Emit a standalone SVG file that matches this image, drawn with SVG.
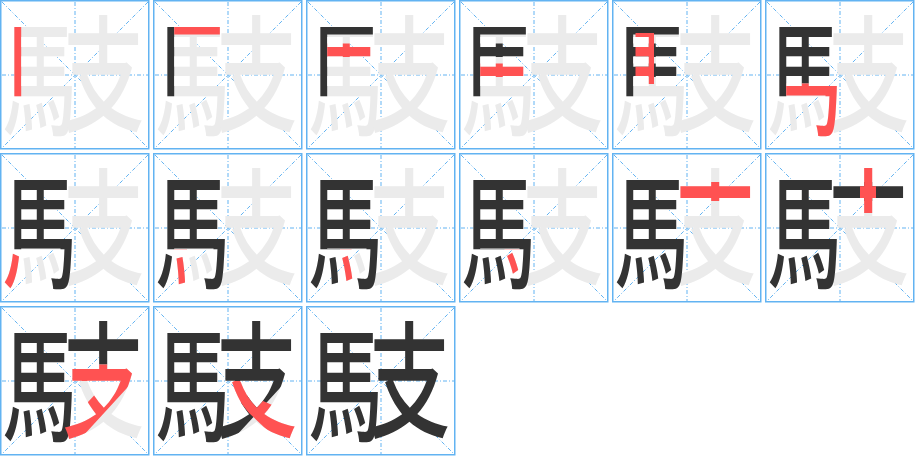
<svg xmlns="http://www.w3.org/2000/svg" xmlns:xlink="http://www.w3.org/1999/xlink" width="915" height="456" viewBox="0 0 915 456">
<style>
.frame{fill:none;stroke:#62b3f2;stroke-width:1.5}
.guide{stroke:#62b3f2;stroke-width:1;stroke-dasharray:4,2,1,2;fill:none}
.gly{font-family:"Noto Sans CJK SC","Noto Sans CJK JP",sans-serif;font-weight:500}
.gray{fill:#ebebeb}
.blk{fill:#333333}
.red{fill:#ff5252}
</style>
<defs>
<g id="frame">
<rect class="frame" x="0.75" y="0.75" width="148" height="148"/>
<path class="guide" d="M75 2V148M2 75H148M2 2L148 148M148 2L2 148"/>
</g>
<text id="ma" class="gly" transform="translate(39.5,0) scale(0.6,1)" x="0" y="124.6" font-size="123" text-anchor="middle">馬</text>
<text id="zh" class="gly" transform="translate(103.5,0) scale(0.65,1)" x="0" y="121.6" font-size="126" text-anchor="middle">支</text>
<path id="p1" d="M9 22H21.2V98.3H9Z"/>
<path id="p2" d="M21.2 22H70V34.5H21.2Z"/>
<path id="p3" d="M21.2 43.5H70V57H21.2Z"/>
<path id="p4" d="M21.2 63.5H70V77H21.2Z"/>
<path id="p5" d="M23.5 33H42V84H23.5Z"/>
<path id="p5s" d="M21.2 34.5H70V43.5H21.2ZM21.2 57H70V63.5H21.2ZM21.2 77H70V83.5H21.2Z"/>
<path id="p6" d="M21.2 83.5H76V139H50.4V123.2H60.5V95.5H21.2Z"/>
<path id="p7" d="M1 98.5H21.2V138H1Z"/>
<path id="p8" d="M21.2 96H34V135H21.2Z"/>
<path id="p9" d="M34 96H45.5L50.4 123.2V135H34Z"/>
<path id="p10" d="M45.5 96H60.5V123.2H50.4Z"/>
<path id="p11" d="M63 29H143V48H63Z"/>
<path id="p12" d="M95 8H111V60H95Z"/>
<path id="p12s" d="M95 8H111V29H95ZM95 48H111V58.5H95Z"/>
<path id="p13" d="M66 58.5H138V70L74.7 139L60 126L107.6 75H66Z"/>
<path id="p14" d="M70 75H87L110 95L147 111V137H128L96 107Z"/>
<clipPath id="c1"><use xlink:href="#p1"/></clipPath>
<clipPath id="c2"><use xlink:href="#p2"/></clipPath>
<clipPath id="c3"><use xlink:href="#p3"/></clipPath>
<clipPath id="c4"><use xlink:href="#p4"/></clipPath>
<clipPath id="c5"><use xlink:href="#p5"/></clipPath>
<clipPath id="c6"><use xlink:href="#p6"/></clipPath>
<clipPath id="c7"><use xlink:href="#p7"/></clipPath>
<clipPath id="c8"><use xlink:href="#p8"/></clipPath>
<clipPath id="c9"><use xlink:href="#p9"/></clipPath>
<clipPath id="c10"><use xlink:href="#p10"/></clipPath>
<clipPath id="c11"><use xlink:href="#p11"/></clipPath>
<clipPath id="c12"><use xlink:href="#p12"/></clipPath>
<clipPath id="c13"><use xlink:href="#p13"/></clipPath>
<clipPath id="c14"><use xlink:href="#p14"/></clipPath>
<clipPath id="m2"><use xlink:href="#p1"/></clipPath>
<clipPath id="m3"><use xlink:href="#p1"/><use xlink:href="#p2"/></clipPath>
<clipPath id="m4"><use xlink:href="#p1"/><use xlink:href="#p2"/><use xlink:href="#p3"/></clipPath>
<clipPath id="m5"><use xlink:href="#p1"/><use xlink:href="#p2"/><use xlink:href="#p3"/><use xlink:href="#p4"/></clipPath>
<clipPath id="m6"><use xlink:href="#p1"/><use xlink:href="#p2"/><use xlink:href="#p3"/><use xlink:href="#p4"/><use xlink:href="#p5s"/></clipPath>
<clipPath id="m7"><use xlink:href="#p1"/><use xlink:href="#p2"/><use xlink:href="#p3"/><use xlink:href="#p4"/><use xlink:href="#p5s"/><use xlink:href="#p6"/></clipPath>
<clipPath id="m8"><use xlink:href="#p1"/><use xlink:href="#p2"/><use xlink:href="#p3"/><use xlink:href="#p4"/><use xlink:href="#p5s"/><use xlink:href="#p6"/><use xlink:href="#p7"/></clipPath>
<clipPath id="m9"><use xlink:href="#p1"/><use xlink:href="#p2"/><use xlink:href="#p3"/><use xlink:href="#p4"/><use xlink:href="#p5s"/><use xlink:href="#p6"/><use xlink:href="#p7"/><use xlink:href="#p8"/></clipPath>
<clipPath id="m10"><use xlink:href="#p1"/><use xlink:href="#p2"/><use xlink:href="#p3"/><use xlink:href="#p4"/><use xlink:href="#p5s"/><use xlink:href="#p6"/><use xlink:href="#p7"/><use xlink:href="#p8"/><use xlink:href="#p9"/></clipPath>
<clipPath id="z12"><use xlink:href="#p11"/></clipPath>
<clipPath id="z13"><use xlink:href="#p11"/><use xlink:href="#p12s"/></clipPath>
<clipPath id="z14"><use xlink:href="#p11"/><use xlink:href="#p12s"/><use xlink:href="#p13"/></clipPath>
</defs>
<rect width="915" height="456" fill="#ffffff"/>
<g id="step-1" transform="translate(0,0)"><use xlink:href="#frame"/><use xlink:href="#ma" class="gray"/><use xlink:href="#zh" class="gray"/><use xlink:href="#ma" class="red" clip-path="url(#c1)"/></g>
<g id="step-2" transform="translate(153,0)"><use xlink:href="#frame"/><use xlink:href="#ma" class="gray"/><use xlink:href="#zh" class="gray"/><use xlink:href="#ma" class="blk" clip-path="url(#m2)"/><use xlink:href="#ma" class="red" clip-path="url(#c2)"/></g>
<g id="step-3" transform="translate(306,0)"><use xlink:href="#frame"/><use xlink:href="#ma" class="gray"/><use xlink:href="#zh" class="gray"/><use xlink:href="#ma" class="blk" clip-path="url(#m3)"/><use xlink:href="#ma" class="red" clip-path="url(#c3)"/></g>
<g id="step-4" transform="translate(459,0)"><use xlink:href="#frame"/><use xlink:href="#ma" class="gray"/><use xlink:href="#zh" class="gray"/><use xlink:href="#ma" class="blk" clip-path="url(#m4)"/><use xlink:href="#ma" class="red" clip-path="url(#c4)"/></g>
<g id="step-5" transform="translate(612,0)"><use xlink:href="#frame"/><use xlink:href="#ma" class="gray"/><use xlink:href="#zh" class="gray"/><use xlink:href="#ma" class="blk" clip-path="url(#m5)"/><use xlink:href="#ma" class="red" clip-path="url(#c5)"/></g>
<g id="step-6" transform="translate(765,0)"><use xlink:href="#frame"/><use xlink:href="#ma" class="gray"/><use xlink:href="#zh" class="gray"/><use xlink:href="#ma" class="blk" clip-path="url(#m6)"/><use xlink:href="#ma" class="red" clip-path="url(#c6)"/></g>
<g id="step-7" transform="translate(0,153)"><use xlink:href="#frame"/><use xlink:href="#ma" class="gray"/><use xlink:href="#zh" class="gray"/><use xlink:href="#ma" class="blk" clip-path="url(#m7)"/><use xlink:href="#ma" class="red" clip-path="url(#c7)"/></g>
<g id="step-8" transform="translate(153,153)"><use xlink:href="#frame"/><use xlink:href="#ma" class="gray"/><use xlink:href="#zh" class="gray"/><use xlink:href="#ma" class="blk" clip-path="url(#m8)"/><use xlink:href="#ma" class="red" clip-path="url(#c8)"/></g>
<g id="step-9" transform="translate(306,153)"><use xlink:href="#frame"/><use xlink:href="#ma" class="gray"/><use xlink:href="#zh" class="gray"/><use xlink:href="#ma" class="blk" clip-path="url(#m9)"/><use xlink:href="#ma" class="red" clip-path="url(#c9)"/></g>
<g id="step-10" transform="translate(459,153)"><use xlink:href="#frame"/><use xlink:href="#ma" class="gray"/><use xlink:href="#zh" class="gray"/><use xlink:href="#ma" class="blk" clip-path="url(#m10)"/><use xlink:href="#ma" class="red" clip-path="url(#c10)"/></g>
<g id="step-11" transform="translate(612,153)"><use xlink:href="#frame"/><use xlink:href="#zh" class="gray"/><use xlink:href="#ma" class="blk"/><use xlink:href="#zh" class="red" clip-path="url(#c11)"/></g>
<g id="step-12" transform="translate(765,153)"><use xlink:href="#frame"/><use xlink:href="#zh" class="gray"/><use xlink:href="#ma" class="blk"/><use xlink:href="#zh" class="blk" clip-path="url(#z12)"/><use xlink:href="#zh" class="red" clip-path="url(#c12)"/></g>
<g id="step-13" transform="translate(0,306)"><use xlink:href="#frame"/><use xlink:href="#zh" class="gray"/><use xlink:href="#ma" class="blk"/><use xlink:href="#zh" class="blk" clip-path="url(#z13)"/><use xlink:href="#zh" class="red" clip-path="url(#c13)"/></g>
<g id="step-14" transform="translate(153,306)"><use xlink:href="#frame"/><use xlink:href="#zh" class="gray"/><use xlink:href="#ma" class="blk"/><use xlink:href="#zh" class="blk" clip-path="url(#z14)"/><use xlink:href="#zh" class="red" clip-path="url(#c14)"/></g>
<g id="step-15" transform="translate(306,306)"><use xlink:href="#frame"/><use xlink:href="#ma" class="blk"/><use xlink:href="#zh" class="blk"/></g>
</svg>
